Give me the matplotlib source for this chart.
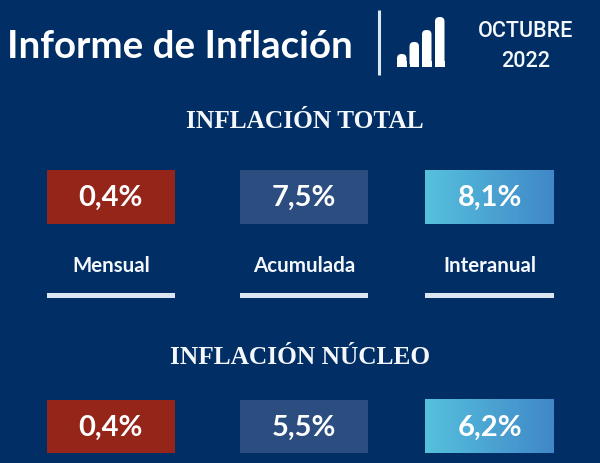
import numpy as np
import matplotlib
matplotlib.use("Agg")
import matplotlib.pyplot as plt
from matplotlib.colors import LinearSegmentedColormap
from matplotlib.patches import FancyBboxPatch, Rectangle

######## Data #################################################################

title = "Informe de Inflación"
period = ["OCTUBRE", "2022"]
section_titles = ["INFLACIÓN TOTAL", "INFLACIÓN NÚCLEO"]
categories = ["Mensual", "Acumulada", "Interanual"]
total_labels = ["0,4%", "7,5%", "8,1%"]
nucleo_labels = ["0,4%", "5,5%", "6,2%"]

######## Style ################################################################

bg_color = "#002e65"
red = "#952419"
mid_blue = "#2c4d80"
light_line = "#dce6f3"
soft_white = "#f4f7fb"
grad_cmap = LinearSegmentedColormap.from_list("cyan", ["#56c0dd", "#4088c8"])
narrow = ["Lato", "Roboto", "DejaVu Sans"]
serif = ["Liberation Serif", "DejaVu Serif"]

box_left = [46.5, 239.7, 425.3]
box_width = 128.7

fig = plt.figure(figsize=(6, 4.64), dpi=100, facecolor=bg_color)
ax = fig.add_axes([0, 0, 1, 1])
ax.set_xlim(0, 600)
ax.set_ylim(464, 0)
ax.axis("off")

######## Header ###############################################################

ax.text(7, 58, title, color="white", fontsize=27.7, fontweight="bold",
        family=narrow, ha="left", va="baseline")
ax.plot([379, 379], [11, 76], color=light_line, lw=2.2, solid_capstyle="butt")

# little bar icon, flat at the bottom
for x, top in zip([397, 409.5, 422, 435], [55, 43, 31, 18]):
    ax.add_patch(FancyBboxPatch((x + 4.5, top + 4.5), 0.5, 59 - top, boxstyle="round,pad=4.5",
                                fc="white", ec="none"))
    ax.add_patch(Rectangle((x, 62), 9.5, 6, fc="white", ec="none"))

ax.text(526, 36.7, period[0], color=soft_white, fontsize=15.5, family="Roboto", ha="center",
        va="baseline", fontweight="medium")
ax.text(526, 66.7, period[1], color=soft_white, fontsize=15.5, family="Roboto", ha="center",
        va="baseline", fontweight="medium")

######## Rows of boxes ########################################################

def draw_row(labels, top):
    height = 53.7
    colors = [red, mid_blue, None]
    for left, label, color in zip(box_left, labels, colors):
        if color is None:
            grad = np.linspace(0, 1, 64).reshape(1, -1)
            ax.imshow(grad, cmap=grad_cmap, aspect="auto", zorder=2,
                      extent=[left, left + box_width, top + height, top])
        else:
            ax.add_patch(Rectangle((left, top), box_width, height, fc=color, ec="none", zorder=2))
        ax.text(left + box_width / 2, top + 35, label, color="white", fontsize=21,
                fontweight="bold", family=narrow, ha="center", va="baseline", zorder=3)

ax.text(305, 128.5, section_titles[0], color=soft_white, fontsize=18.3, family=serif,
        fontweight="bold", ha="center", va="baseline")
draw_row(total_labels, 171)

for left, name in zip(box_left, categories):
    ax.text(left + box_width / 2, 272.5, name, color=soft_white, fontsize=14.8, family=narrow,
            fontweight="bold", ha="center", va="baseline")
    ax.add_patch(Rectangle((left, 294), box_width, 5.3, fc=light_line, ec="none"))

ax.text(300.5, 364, section_titles[1], color=soft_white, fontsize=18.3, family=serif,
        fontweight="bold", ha="center", va="baseline")
draw_row(nucleo_labels, 400.5)

ax.set_xlim(0, 600)
ax.set_ylim(464, 0)
fig.savefig("out.png", dpi=100, facecolor=bg_color)
